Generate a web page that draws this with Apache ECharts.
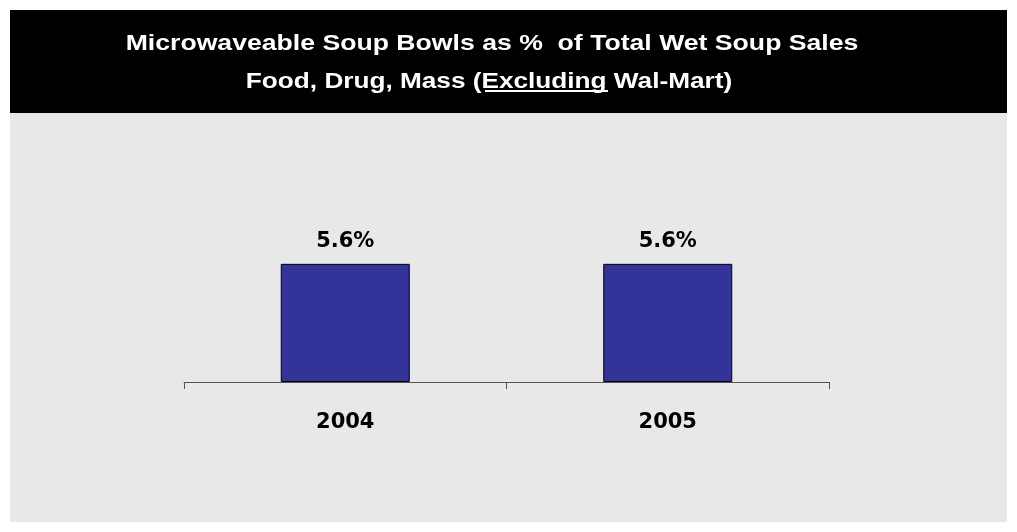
<!DOCTYPE html>
<html><head><meta charset="utf-8">
<script src="https://cdn.jsdelivr.net/npm/echarts@6/dist/echarts.min.js"></script>
<style>html,body{margin:0;padding:0;background:#fff}#c{width:1017px;height:532px}</style>
</head><body><div id="c"></div>
<script>
const categories = ['2004', '2005'];
const values = [5.6, 5.6];
const titleLine1 = 'Microwaveable Soup Bowls as %  of Total Wet Soup Sales';
const titleLine2 = 'Food, Drug, Mass (Excluding Wal-Mart)';

const chart = echarts.init(document.getElementById('c'), null, {renderer: 'canvas'});
const font = '"Liberation Sans", Arial, sans-serif';
const numFont = '"DejaVu Sans", sans-serif';
chart.setOption({
  animation: false,
  backgroundColor: '#ffffff',
  graphic: [
    {type: 'rect', shape: {x: 10, y: 10, width: 997, height: 103}, style: {fill: '#000'}, z: -10},
    {type: 'rect', shape: {x: 10, y: 113, width: 997, height: 409}, style: {fill: '#e8e8e8'}, z: -10},
    {type: 'text', x: 492, y: 44, scaleX: 1.21, style: {text: titleLine1, fill: '#fff', font: 'bold 22px ' + font, textAlign: 'center', textVerticalAlign: 'middle'}},
    {type: 'text', x: 489, y: 82, scaleX: 1.19, style: {text: titleLine2, fill: '#fff', font: 'bold 22px ' + font, textAlign: 'center', textVerticalAlign: 'middle'}},
    {type: 'line', shape: {x1: 485, y1: 91, x2: 608, y2: 91}, style: {stroke: '#fff', lineWidth: 2}}
  ],
  grid: {left: 184, right: 1017 - 829, top: 171, bottom: 532 - 382},
  xAxis: {
    type: 'category', data: categories,
    axisLine: {lineStyle: {color: '#555', width: 1}},
    axisTick: {show: true, length: 7, inside: false, lineStyle: {color: '#555'}},
    axisLabel: {color: '#000', fontFamily: numFont, fontWeight: 'bold', fontSize: 21, margin: 30}
  },
  yAxis: {
    type: 'value', min: 0, max: 10, show: false, splitLine: {show: false}
  },
  series: [{
    type: 'bar', data: values, barWidth: '40%',
    itemStyle: {color: '#333399', borderColor: '#000', borderWidth: 1},
    label: {show: true, position: 'top', distance: 12, color: '#000', fontFamily: numFont, fontWeight: 'bold', fontSize: 21, formatter: p => p.value.toFixed(1) + '%'}
  }]
});
</script></body></html>
